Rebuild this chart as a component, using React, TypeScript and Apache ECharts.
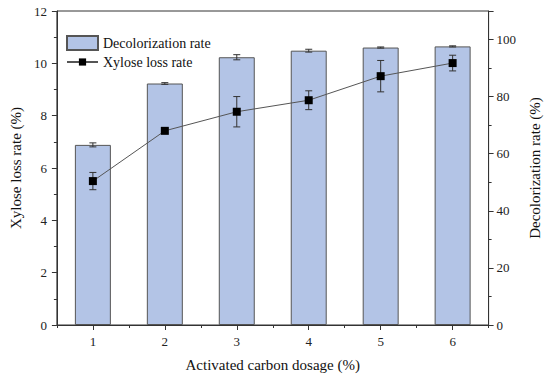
import React, { useEffect, useRef } from "react";
import * as echarts from "echarts";

const categories = ["1", "2", "3", "4", "5", "6"];
const decolorizationRate = [63.1, 84.6, 93.8, 96.1, 97.2, 97.6];
const decolorizationErr = [0.7, 0.3, 0.9, 0.5, 0.2, 0.2];
const xyloseLossRate = [5.5, 7.42, 8.15, 8.59, 9.51, 10.01];
const xyloseLossErr = [0.33, 0.08, 0.58, 0.36, 0.6, 0.3];

const FONT = "'Liberation Serif', 'Times New Roman', serif";

function errorRender(params: any, api: any) {
  const x = api.value(0);
  const v = api.value(1);
  const e = api.value(2);
  const hi = api.coord([x, v + e]);
  const lo = api.coord([x, v - e]);
  const w = 3.5;
  const style = { stroke: "#333", lineWidth: 1 };
  return {
    type: "group",
    children: [
      { type: "line", shape: { x1: hi[0], y1: hi[1], x2: lo[0], y2: lo[1] }, style },
      { type: "line", shape: { x1: hi[0] - w, y1: hi[1], x2: hi[0] + w, y2: hi[1] }, style },
      { type: "line", shape: { x1: lo[0] - w, y1: lo[1], x2: lo[0] + w, y2: lo[1] }, style },
    ],
  };
}

export default function App() {
  const ref = useRef<HTMLDivElement>(null);
  useEffect(() => {
    if (!ref.current) return;
    const chart = echarts.init(ref.current, null, { renderer: "svg" });
    const axisLine = { show: true, lineStyle: { color: "#333", width: 1 } };
    const labelStyle = { color: "#222", fontFamily: FONT, fontSize: 13 };
    const nameStyle = { color: "#111", fontFamily: FONT, fontSize: 15 };
    chart.setOption({
      animation: false,
      backgroundColor: "#fff",
      grid: {
        left: 46,
        right: 55,
        top: 11,
        bottom: 53,
        show: true,
        borderColor: "#333",
        borderWidth: 1,
      },
      legend: [
        {
          data: [{ name: "Decolorization rate", icon: "rect" }],
          orient: "vertical",
          left: 61,
          top: 30,
          itemWidth: 31,
          itemHeight: 14,
          itemGap: 5,
          textStyle: { color: "#111", fontFamily: FONT, fontSize: 14 },
        },
        {
          data: ["Xylose loss rate"],
          orient: "vertical",
          left: 61,
          top: 50,
          itemWidth: 31,
          itemHeight: 9,
          textStyle: { color: "#111", fontFamily: FONT, fontSize: 14 },
        },
      ],
      xAxis: [
        {
          type: "category",
          data: categories,
          boundaryGap: true,
          name: "Activated carbon dosage (%)",
          nameLocation: "middle",
          nameGap: 32,
          nameTextStyle: nameStyle,
          axisLine,
          axisTick: { show: true, alignWithLabel: true, length: 5, lineStyle: { color: "#333" } },
          axisLabel: { ...labelStyle, margin: 10 },
          splitLine: { show: false },
        },
        {
          type: "category",
          data: categories,
          boundaryGap: true,
          position: "bottom",
          axisLine: { show: false },
          axisTick: { show: true, length: 3, lineStyle: { color: "#333" } },
          axisLabel: { show: false },
          splitLine: { show: false },
        },
      ],
      yAxis: [
        {
          type: "value",
          min: 0,
          max: 12,
          interval: 2,
          name: "Xylose loss rate (%)",
          nameLocation: "middle",
          nameGap: 25,
          nameTextStyle: nameStyle,
          axisLine,
          axisTick: { show: true, length: 5, lineStyle: { color: "#333" } },
          minorTick: { show: true, splitNumber: 2, length: 3, lineStyle: { color: "#333" } },
          axisLabel: { ...labelStyle, margin: 10 },
          splitLine: { show: false },
        },
        {
          type: "value",
          min: 0,
          max: 110,
          interval: 20,
          position: "right",
          name: "Decolorization rate (%)",
          nameLocation: "middle",
          nameGap: 35,
          nameTextStyle: nameStyle,
          axisLine,
          axisTick: { show: true, length: 5, lineStyle: { color: "#333" } },
          minorTick: { show: true, splitNumber: 2, length: 3, lineStyle: { color: "#333" } },
          axisLabel: {
            ...labelStyle,
            margin: 8,
            formatter: (v: number) => (v > 100 ? "" : String(v)),
          },
          splitLine: { show: false },
        },
      ],
      series: [
        {
          name: "Decolorization rate",
          type: "bar",
          xAxisIndex: 0,
          yAxisIndex: 1,
          barWidth: "50%",
          data: decolorizationRate,
          itemStyle: { color: "#b3c4e6", borderColor: "#555", borderWidth: 1 },
          z: 2,
        },
        {
          name: "decolorization error",
          type: "custom",
          xAxisIndex: 0,
          yAxisIndex: 1,
          renderItem: errorRender,
          data: decolorizationRate.map((v, i) => [i, v, decolorizationErr[i]]),
          z: 3,
          silent: true,
        },
        {
          name: "xylose error",
          type: "custom",
          xAxisIndex: 0,
          yAxisIndex: 0,
          renderItem: errorRender,
          data: xyloseLossRate.map((v, i) => [i, v, xyloseLossErr[i]]),
          z: 4,
          silent: true,
        },
        {
          name: "Xylose loss rate",
          type: "line",
          xAxisIndex: 0,
          yAxisIndex: 0,
          data: xyloseLossRate,
          symbol: "rect",
          symbolSize: 8,
          lineStyle: { color: "#555", width: 1 },
          itemStyle: { color: "#000" },
          z: 5,
        },
      ],
    });
    return () => chart.dispose();
  }, []);
  return (
    <div
      ref={ref}
      style={{ position: "fixed", left: 0, top: 0, width: 550, height: 378 }}
    />
  );
}
